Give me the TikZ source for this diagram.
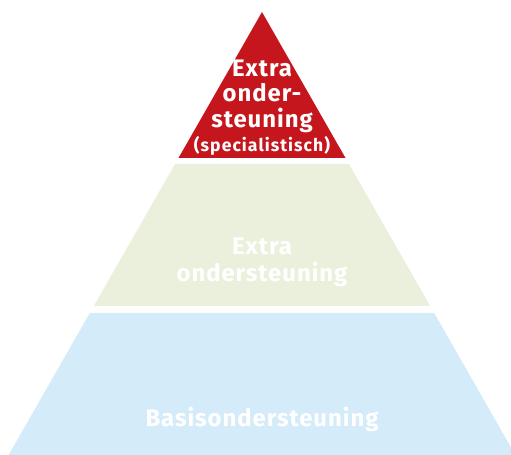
\documentclass[tikz,border=0pt]{standalone}
\usepackage{fontspec}
\setmainfont{Fira Sans}[LetterSpace = 4]
\newfontfamily\smallfont{Fira Sans}[LetterSpace = 6]
\usepackage{tikz}

\definecolor{topred}{HTML}{C4161C}
\definecolor{midgreen}{HTML}{EBF0DC}
\definecolor{basblue}{HTML}{D4EBFA}

\begin{document}
\begin{tikzpicture}[font = \bfseries\fontsize{17}{20}\selectfont,
    label/.style = {text = white, inner sep = 0pt, anchor = base}]
        \useasboundingbox (0,0) rectangle (12.775,11.375);
        \clip (0,0) rectangle (12.775,11.375);
        
        % top
        \fill [topred]
        (6.55,11.075) --
        (8.6375,7.425) --
        (4.4625,7.425) -- cycle;
        
        % middle
        \fill [midgreen]
        (4.375,7.275) --
        (8.725,7.275) --
        (10.755,3.725) --
        (2.345,3.725) -- cycle;
        
        % bottom
        \fill [basblue]
        (2.245,3.55) --
        (10.855,3.55) --
        (12.885,0) --
        (0.215,0) -- cycle;
        
        \node[label] (t1) at (6.55,9.45) {Extra};
        \node[label] (t2) at (6.55,8.825) {onder-};
        \node[label] (t3) at (6.55,8.175) {steuning};
        \node[label, font = \smallfont\bfseries\fontsize{12.5}{14}\selectfont] (t4) at (6.55,7.575) {(specialistisch)};
        
        \node[label] (m1) at (6.55,5.0) {Extra};
        \node[label] (m2) at (6.55,4.325) {ondersteuning};
        
        \node[label] (b1) at (6.55,0.7) {Basisondersteuning};
    \end{tikzpicture}
\end{document}
